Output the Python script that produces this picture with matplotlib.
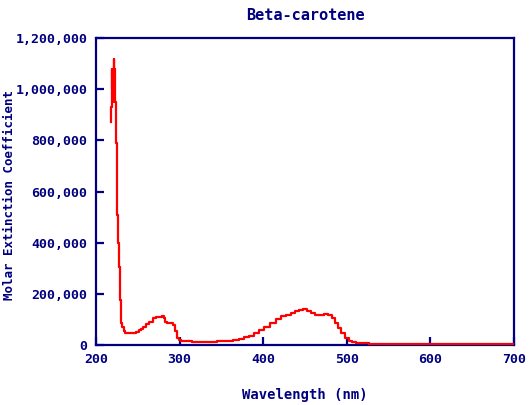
import matplotlib
matplotlib.use("Agg")
import matplotlib.pyplot as plt
from matplotlib.ticker import FuncFormatter

NAVY = "#000080"

# wavelength (nm) and molar extinction coefficient
wavelength = [218, 219, 219.5, 220, 220.5, 221, 221.5, 222, 222.5, 223, 223.5, 224, 224.5,
              225, 226, 227, 228, 229, 230, 231, 232, 234, 236, 240, 245, 250, 252, 255,
              258, 262, 266, 270, 274, 278, 280, 282, 284, 286, 290, 294, 296, 298, 300,
              304, 310, 320, 330, 340, 350, 360, 368, 375, 380, 385, 392, 398, 405, 412,
              418, 424, 430, 436, 440, 445, 450, 455, 460, 465, 470, 475, 480, 484, 488,
              492, 495, 500, 504, 508, 515, 522, 531, 545, 600, 650, 700]
epsilon = [870000, 930000, 1080000, 1000000, 950000, 1080000, 1120000, 1080000, 950000,
           1080000, 950000, 790000, 790000, 508000, 508000, 400000, 305000, 176000, 113000,
           85000, 70000, 55000, 48000, 48000, 48000, 50000, 60000, 62000, 72000, 82000,
           92000, 105000, 108000, 108000, 114000, 104000, 90000, 88000, 85000, 80000,
           55000, 27000, 20000, 16000, 14000, 12000, 12000, 13000, 14000, 16000, 19000,
           24000, 30000, 36000, 47000, 57000, 70000, 85000, 100000, 113000, 118000, 124000,
           132000, 138000, 142000, 135000, 125000, 117000, 118000, 120000, 118000, 105000,
           86000, 65000, 47000, 28000, 16000, 11000, 8000, 6500, 5500, 5000, 4500, 4000, 4000]

x_ticks = [200, 300, 400, 500, 600, 700]
y_ticks = [0, 200000, 400000, 600000, 800000, 1000000, 1200000]

plt.rcParams["font.family"] = ["DejaVu Sans Mono"]
plt.rcParams["font.weight"] = "bold"

fig = plt.figure(figsize=(5.3, 4.05), dpi=100)
ax = fig.add_axes([0.181, 0.148, 0.789, 0.758])

ax.plot(wavelength, epsilon, color="red", linewidth=1.6, drawstyle="steps-mid", zorder=3)

ax.set_xlim(200, 700)
ax.set_ylim(0, 1200000)
ax.set_xticks(x_ticks)
ax.set_yticks(y_ticks)
ax.yaxis.set_major_formatter(FuncFormatter(lambda v, p: f"{int(v):,}"))

for s in ax.spines.values():
    s.set_color(NAVY)
    s.set_linewidth(1.6)
ax.tick_params(direction="in", length=6, width=1.6, color=NAVY, labelcolor=NAVY,
               labelsize=9.5, pad=6)

ax.set_title("Beta-carotene", color=NAVY, fontsize=11, fontweight="bold", pad=13)
ax.set_xlabel("Wavelength (nm)", color=NAVY, fontsize=10, fontweight="bold")
ax.xaxis.set_label_coords(0.5, -0.14)
ax.set_ylabel("Molar Extinction Coefficient", color=NAVY, fontsize=9, fontweight="bold")
ax.yaxis.set_label_coords(-0.19, 0.49)

fig.savefig("out.png", dpi=100)
